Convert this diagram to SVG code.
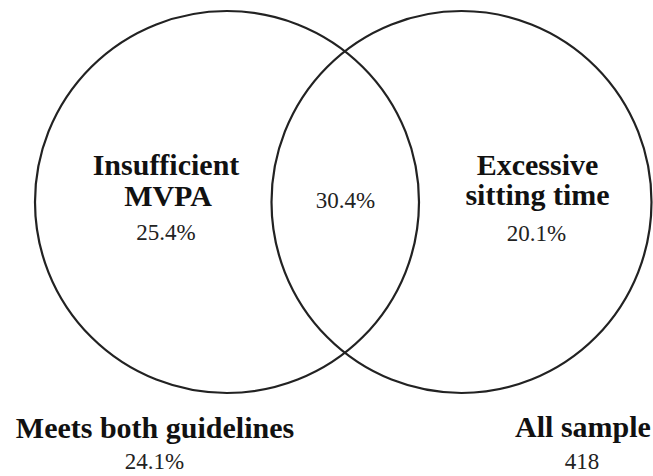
<svg xmlns="http://www.w3.org/2000/svg" width="653" height="476" viewBox="0 0 653 476">
<style>
.ring{fill:none;stroke:#222;stroke-width:2.2}
text{font-family:"Liberation Serif","Times New Roman",serif;text-anchor:middle}
.b{font-weight:bold;font-size:30px;fill:#111}
.r{font-size:23px;fill:#222}
</style>
<rect width="653" height="476" fill="#fff"/>
<g id="set-mvpa">
<ellipse class="ring" cx="227" cy="202" rx="192" ry="191"/>
<text class="b" x="166" y="175">Insufficient</text>
<text class="b" x="168" y="206">MVPA</text>
<text class="r" x="166" y="240">25.4%</text>
</g>
<g id="set-sitting">
<ellipse class="ring" cx="461.5" cy="202" rx="190" ry="191"/>
<text class="b" x="537.5" y="175">Excessive</text>
<text class="b" x="537.5" y="205">sitting time</text>
<text class="r" x="536.5" y="241">20.1%</text>
</g>
<g id="overlap">
<text class="r" x="345.5" y="208">30.4%</text>
</g>
<g id="neither">
<text class="b" x="155" y="438">Meets both guidelines</text>
<text class="r" x="154.5" y="469">24.1%</text>
</g>
<g id="all-sample">
<text class="b" x="583" y="437">All sample</text>
<text class="r" x="582" y="469">418</text>
</g>
<g id="connectors"></g>
</svg>
